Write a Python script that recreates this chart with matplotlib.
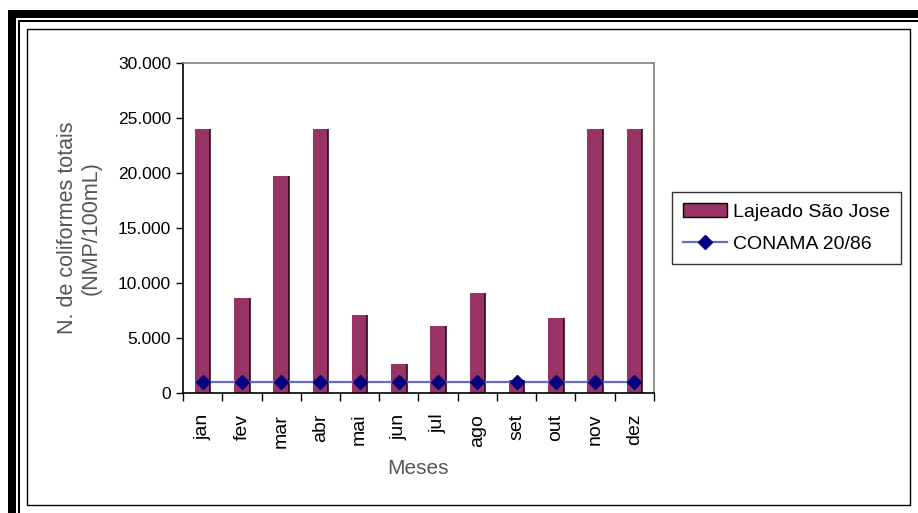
import numpy as np
import matplotlib
matplotlib.use("Agg")
import matplotlib.pyplot as plt
from matplotlib.patches import Rectangle
from matplotlib.ticker import FuncFormatter

plt.rcParams['font.family'] = ['Liberation Sans', 'DejaVu Sans']

months = ["jan", "fev", "mar", "abr", "mai", "jun", "jul", "ago", "set", "out", "nov", "dez"]
lajeado = [24000, 8600, 19700, 24000, 7100, 2600, 6100, 9100, 1200, 6800, 24000, 24000]
conama = [1000] * 12

bar_color = "#993366"
line_color = "#6a6ac0"
marker_color = "#000080"

W, H = 918, 513
fig = plt.figure(figsize=(W / 100, H / 100), dpi=100)

# figure frame (excel style double border)
def px_rect(x0, y0, x1, y1, **kw):
    fig.patches.append(Rectangle((x0 / W, 1 - y1 / H), (x1 - x0) / W, (y1 - y0) / H,
                                 transform=fig.transFigure, **kw))

px_rect(8, 10, W, 18, color="black", lw=0)
px_rect(8, 10, 16, H, color="black", lw=0)
px_rect(18, 20, W, 22, color="black", lw=0)
px_rect(18, 20, 20, H, color="black", lw=0)
px_rect(27, 29, 910, 505, fill=False, edgecolor="black", lw=1)

ax = fig.add_axes([183 / W, 1 - 393 / H, 471 / W, 330 / H])
x = np.arange(len(months))
bw = 0.4
ax.bar(x, lajeado, width=bw, color=bar_color, edgecolor="none", zorder=2,
       label="Lajeado São Jose")
ax.vlines(x + bw / 2, 0, lajeado, colors="#2a0a1a", lw=1.2, zorder=2)
ax.plot(x, conama, color=line_color, lw=1.6, marker="D", markersize=7,
        markerfacecolor=marker_color, markeredgecolor=marker_color, zorder=3,
        label="CONAMA 20/86")

ax.set_xlim(-0.5, len(months) - 0.5)
ax.set_ylim(0, 30000)
ax.set_yticks(np.arange(0, 30001, 5000))
ax.yaxis.set_major_formatter(FuncFormatter(lambda v, p: f"{int(v):,}".replace(",", ".")))
ax.set_xticks(x)
ax.set_xticklabels(months, rotation=90, fontsize=14)
ax.set_xticks(np.arange(-0.5, len(months)), minor=True)
ax.tick_params(axis="x", which="major", length=0, pad=15)
ax.tick_params(axis="x", which="minor", length=6, direction="out", width=1)
ax.tick_params(axis="y", length=5, direction="out", labelsize=12.5, width=1)

for s in ["top", "right"]:
    ax.spines[s].set_color("#808080")
    ax.spines[s].set_linewidth(1.2)
for s in ["left", "bottom"]:
    ax.spines[s].set_color("black")
    ax.spines[s].set_linewidth(1.2)

ax.set_xlabel("Meses", fontsize=15, color="#555555", labelpad=8)
ax.set_ylabel("N. de coliformes totais\n(NMP/100mL)", fontsize=15.5, color="#555555",
              labelpad=12, linespacing=1.15)

handles, labels = ax.get_legend_handles_labels()
order = [labels.index("Lajeado São Jose"), labels.index("CONAMA 20/86")]
leg = fig.legend([handles[i] for i in order], [labels[i] for i in order],
                 loc="center left", bbox_to_anchor=(672 / W, 1 - 228 / H),
                 fontsize=14, frameon=True, fancybox=False, borderpad=0.55,
                 handlelength=2.3, labelspacing=0.75, handletextpad=0.3,
                 borderaxespad=0)
leg.get_frame().set_edgecolor("black")
leg.get_frame().set_linewidth(1)
for h in leg.legend_handles:
    if isinstance(h, Rectangle):
        h.set_edgecolor("black")
        h.set_linewidth(1)

fig.savefig("out.png", dpi=100)
